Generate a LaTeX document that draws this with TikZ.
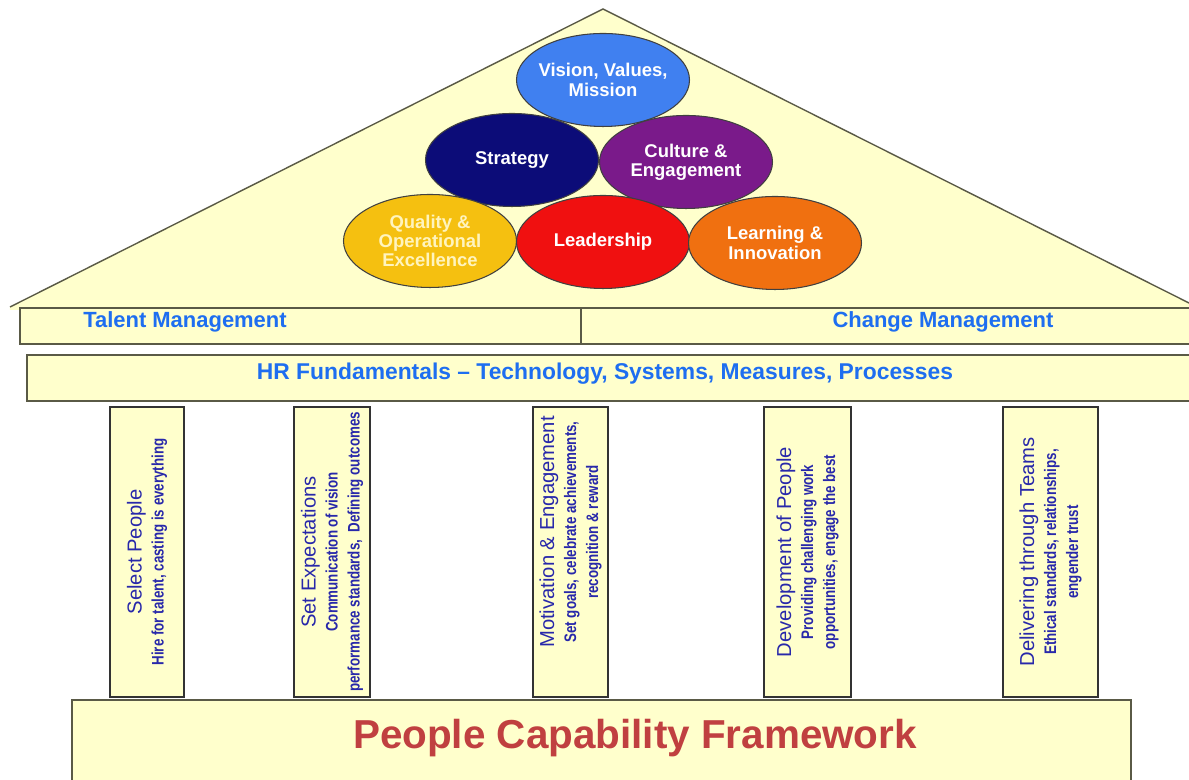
\documentclass[tikz,border=0pt]{standalone}
\usepackage{fontspec}
\setmainfont{Liberation Sans}
\newfontfamily\narrowsans[FakeStretch=0.8]{Liberation Sans}
\usetikzlibrary{positioning,shapes.geometric}

\definecolor{cream}{RGB}{255,255,204}
\definecolor{barline}{RGB}{90,90,70}
\definecolor{barblue}{RGB}{30,110,240}
\definecolor{pillarblue}{RGB}{40,40,170}
\definecolor{frameworkred}{RGB}{192,64,64}
\definecolor{visionblue}{RGB}{64,128,240}
\definecolor{strategynavy}{RGB}{12,12,120}
\definecolor{culturepurple}{RGB}{122,26,138}
\definecolor{qualitygold}{RGB}{245,192,16}
\definecolor{qualitytext}{RGB}{255,244,190}
\definecolor{leadred}{RGB}{240,16,16}
\definecolor{learnorange}{RGB}{240,112,16}

\begin{document}
\begin{tikzpicture}[
    ball/.style={ellipse,draw=black!75,line width=0.6pt,inner sep=0pt,
      minimum width=3.46cm,minimum height=1.86cm},
    balltext/.style={align=center,text=white,font=\bfseries\fontsize{10.5}{11}\selectfont},
    bar/.style={draw=barline,line width=1pt,fill=cream,inner sep=0pt},
    bartext/.style={text=barblue,font=\bfseries\fontsize{12.5}{14}\selectfont},
    pillar/.style={draw=black!80,line width=0.6pt,fill=cream,inner sep=0pt,
      minimum height=5.8cm},
    pillartext/.style={rotate=90,align=center,text=pillarblue,
      font=\narrowsans\bfseries\fontsize{9.5}{12.5}\selectfont}
  ]
  \useasboundingbox (0,0) rectangle (23.78,15.6);

  % roof
  \coordinate (eaveleft) at (0.2,9.46);
  \coordinate (apex) at (12.06,15.42);
  \coordinate (eaveright) at (23.78,9.54);
  \fill[cream] (eaveleft) -- (apex) -- (eaveright) -- (23.78,9.4) -- (0.2,9.4) -- cycle;
  \draw[barline,line width=0.8pt] (eaveleft) -- (apex) -- (eaveright);

  % the six circles
  \node[ball,fill=visionblue,label={[balltext]center:{Vision, Values,\\Mission}}] (vision) at (12.06,14.0) {};
  \node[ball,fill=strategynavy,label={[balltext]center:Strategy}] (strategy) at (10.24,12.4) {};
  \node[ball,fill=culturepurple,label={[balltext]center:{Culture \&\\Engagement}}] (culture) at (13.72,12.36) {};
  \node[ball,fill=qualitygold,label={[balltext,text=qualitytext]center:{Quality \&\\Operational\\Excellence}}] (quality) at (8.6,10.78) {};
  \node[ball,fill=leadred,label={[balltext]center:Leadership}] (leadership) at (12.06,10.76) {};
  \node[ball,fill=learnorange,label={[balltext]center:{Learning \&\\Innovation}}] (learning) at (15.5,10.74) {};

  % beams
  \node[bar,minimum width=11.22cm,minimum height=0.72cm] (talent) at (6.01,9.08) {};
  \node[bar,minimum width=12.38cm,minimum height=0.72cm] (change) at (17.81,9.08) {};
  \node[bar,minimum width=23.46cm,minimum height=0.92cm] (hr) at (12.27,8.04) {};
  \node[bartext] (talenttext) at (3.7,9.16) {Talent Management};
  \node[bartext] (changetext) at (18.86,9.16) {Change Management};
  \node[bartext,font=\bfseries\fontsize{13}{14}\selectfont] (hrtext) at (12.1,8.12) {HR Fundamentals -- Technology, Systems, Measures, Processes};

  % pillars
  \node[pillar,minimum width=1.48cm] (select) at (2.94,4.56) {};
  \node[pillar,minimum width=1.52cm] (expect) at (6.64,4.56) {};
  \node[pillar,minimum width=1.5cm] (motivation) at (11.41,4.56) {};
  \node[pillar,minimum width=1.74cm] (development) at (16.15,4.56) {};
  \node[pillar,minimum width=1.9cm] (teams) at (21.01,4.56) {};

  \node[pillartext] (selecttext) at (select) {{\normalfont\fontsize{11.5}{13}\selectfont Select People}\\Hire for talent, casting is everything};
  \node[pillartext] (expecttext) at (expect) {{\normalfont\fontsize{11.5}{13}\selectfont Set Expectations}\\Communication of vision\\performance standards,\ \ Defining outcomes};
  \node[pillartext] (motivationtext) at ([yshift=0.4cm]motivation.center) {{\normalfont\fontsize{11.5}{13}\selectfont Motivation \& Engagement}\\Set goals, celebrate achievements,\\recognition \& reward};
  \node[pillartext] (developmenttext) at (development) {{\normalfont\fontsize{11.5}{13}\selectfont Development of People}\\Providing challenging work\\opportunities, engage the best};
  \node[pillartext] (teamstext) at (teams) {{\normalfont\fontsize{11.5}{13}\selectfont Delivering through Teams}\\Ethical standards, relationships,\\engender trust};

  % foundation
  \node[bar,line width=0.8pt,minimum width=21.18cm,minimum height=1.9cm] (base) at (12.03,0.65) {};
  \node[text=frameworkred,font=\bfseries\fontsize{23}{26}\selectfont] (frameworktext) at (12.7,0.84) {People Capability Framework};
\end{tikzpicture}
\end{document}
